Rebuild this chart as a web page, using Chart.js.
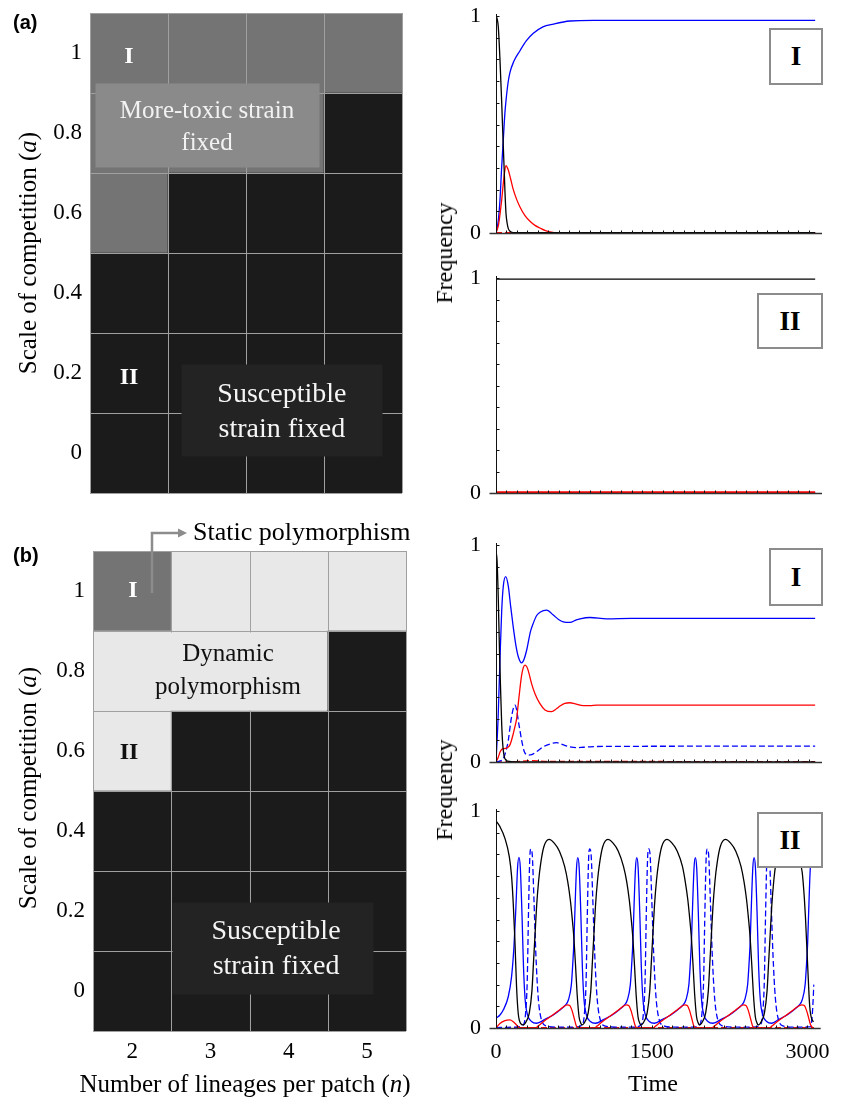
<!DOCTYPE html>
<html>
<head>
<meta charset="utf-8">
<script src="https://cdn.jsdelivr.net/npm/chart.js@4.4.1/dist/chart.umd.min.js"></script>
<style>
  body { margin: 0; background: #fff; }
  #fig { position: relative; width: 841px; height: 1097px; overflow: hidden;
         font-family: "Liberation Serif", "Times New Roman", serif; color: #000; }
  canvas { position: absolute; }
  .lbl { position: absolute; white-space: nowrap; line-height: 1; }
  .ctr { transform: translate(-50%, -50%); }
  .rot { transform: translate(-50%, -50%) rotate(-90deg); }
  .panel { font-family: "Liberation Sans", Arial, sans-serif; font-weight: bold; font-size: 20px; }
  .tag { position: absolute; box-sizing: border-box; border: 2px solid #8c8c8c; background: #fff;
         display: flex; align-items: center; justify-content: center;
         font-weight: bold; font-size: 27px; }
</style>
</head>
<body>
<div id="fig">
  <canvas id="mapA" width="430" height="544" style="left:0;top:-19px"></canvas>
  <canvas id="mapB" width="430" height="586" style="left:0;top:511px"></canvas>
  <canvas id="freqAI" width="411" height="281" style="left:430px;top:-16px"></canvas>
  <canvas id="freqAII" width="411" height="279" style="left:430px;top:246px"></canvas>
  <canvas id="freqBI" width="411" height="281" style="left:430px;top:513px"></canvas>
  <canvas id="freqBII" width="411" height="318" style="left:430px;top:779px"></canvas>

  <div class="lbl panel" style="left:13px;top:12px">(a)</div>
  <div class="lbl panel" style="left:13px;top:545px">(b)</div>
  <div class="lbl rot" style="left:27px;top:253px;font-size:25px">Scale of competition (<i>a</i>)</div>
  <div class="lbl rot" style="left:27px;top:788px;font-size:25px">Scale of competition (<i>a</i>)</div>
  <div class="lbl ctr" style="left:245px;top:1083px;font-size:25px">Number of lineages per patch (<i>n</i>)</div>
  <div class="lbl rot" style="left:444px;top:253px;font-size:24px">Frequency</div>
  <div class="lbl rot" style="left:444px;top:790px;font-size:24px">Frequency</div>
  <div class="lbl ctr" style="left:653px;top:1083px;font-size:24px">Time</div>

  <div class="tag" style="left:769px;top:28px;width:54px;height:57px">I</div>
  <div class="tag" style="left:757px;top:293px;width:66px;height:56px">II</div>
  <div class="tag" style="left:769px;top:548px;width:54px;height:58px">I</div>
  <div class="tag" style="left:757px;top:812px;width:66px;height:56px">II</div>
</div>

<script>
// ---- heat maps: outcome per (n, a) cell ----
const lineages = ['2', '3', '4', '5'];
const competition = [0, 0.2, 0.4, 0.6, 0.8, 1];
// rows follow `competition`, columns follow `lineages`
const fateA = [
  ['sus', 'sus', 'sus', 'sus'],
  ['sus', 'sus', 'sus', 'sus'],
  ['sus', 'sus', 'sus', 'sus'],
  ['tox', 'sus', 'sus', 'sus'],
  ['tox', 'tox', 'tox', 'sus'],
  ['tox', 'tox', 'tox', 'tox']
];
const fateB = [
  ['sus', 'sus', 'sus', 'sus'],
  ['sus', 'sus', 'sus', 'sus'],
  ['sus', 'sus', 'sus', 'sus'],
  ['dyn', 'sus', 'sus', 'sus'],
  ['dyn', 'dyn', 'dyn', 'sus'],
  ['sta', 'dyn', 'dyn', 'dyn']
];

// ---- time series, [time, frequency] ----
const timeTicks = [0, 1500, 3000];
const freqTicks = [0, 1];
const timeMax = 3070;

// (a) I
const aI_black = [[0,1],[12,0.985],[22,0.95],[38,0.8],[54,0.61],[66,0.45],[77,0.31],[86,0.19],[96,0.09],[107,0.045],[118,0.02],[140,0.006],[166,0.002],[3062,0.002]];
const aI_blue = [[0,0],[20,0.05],[38,0.15],[54,0.3],[70,0.43],[85,0.55],[96,0.61],[115,0.69],[134,0.74],[170,0.79],[230,0.84],[290,0.885],[358,0.92],[450,0.95],[550,0.963],[710,0.977],[934,0.98],[3062,0.98]];
const aI_red = [[0,0],[25,0.04],[54,0.15],[77,0.26],[96,0.31],[118,0.29],[140,0.25],[166,0.2],[198,0.155],[230,0.12],[278,0.08],[326,0.054],[374,0.035],[422,0.023],[470,0.012],[518,0.005],[600,0.001],[3062,0]];
const aI_redDash = [[0,0.002],[3062,0.002]];

// (a) II
const aII_black = [[0,0.995],[3062,0.995]];
const aII_blue = [[0,0.002],[3062,0.002]];
const aII_red = [[0,0.003],[3062,0.003]];

// (b) I
const bI_black = [[0,0.97],[10,0.93],[22,0.75],[34,0.5],[45,0.32],[55,0.17],[64,0.085],[75,0.035],[86,0.015],[110,0.004],[200,0.001],[3062,0.001]];
const bI_blue = [[0,0],[20,0.2],[38,0.47],[55,0.7],[70,0.81],[93,0.854],[118,0.81],[140,0.72],[166,0.62],[190,0.54],[214,0.485],[246,0.457],[270,0.475],[294,0.515],[330,0.6],[358,0.64],[390,0.675],[422,0.69],[486,0.7],[550,0.677],[600,0.657],[646,0.646],[710,0.643],[770,0.655],[806,0.66],[902,0.666],[1062,0.66],[1300,0.662],[3062,0.662]];
const bI_blueDash = [[0,0],[40,0.005],[70,0.015],[100,0.06],[118,0.1],[140,0.18],[150,0.21],[165,0.245],[182,0.262],[198,0.24],[214,0.19],[230,0.145],[246,0.1],[270,0.05],[310,0.032],[342,0.034],[390,0.048],[454,0.07],[518,0.083],[582,0.089],[640,0.08],[710,0.07],[774,0.066],[838,0.068],[902,0.07],[1030,0.072],[3062,0.073]];
const bI_red = [[0,0],[20,0.02],[38,0.045],[54,0.058],[80,0.062],[109,0.066],[135,0.08],[160,0.12],[180,0.16],[198,0.2],[214,0.27],[230,0.34],[246,0.4],[262,0.435],[278,0.446],[294,0.44],[310,0.42],[342,0.36],[374,0.315],[420,0.27],[470,0.24],[534,0.232],[580,0.245],[614,0.258],[660,0.27],[710,0.273],[760,0.268],[838,0.26],[902,0.26],[966,0.262],[3062,0.262]];
const bI_redDash = [[0,0],[200,0.002],[330,0.006],[500,0.003],[3062,0.002]];

// (b) II
const bII_black = [[0,0.955],[38,0.928],[86,0.874],[128,0.79],[150,0.7],[166,0.575],[182,0.405],[198,0.19],[214,0.068],[237,0.021],[262,0.014],
  [291,0.03],[321,0.07],[346,0.17],[361,0.3],[376,0.43],[391,0.56],[411,0.68],[431,0.76],[461,0.835],[511,0.869],[561,0.852],[611,0.815],[661,0.745],[691,0.675],[716,0.59],[731,0.52],[748,0.43],[766,0.29],[781,0.16],[800,0.052],[818,0.021],
  [829,0.014],[858,0.03],[888,0.07],[913,0.17],[928,0.3],[943,0.43],[958,0.56],[978,0.68],[998,0.76],[1028,0.835],[1078,0.869],[1128,0.852],[1178,0.815],[1228,0.745],[1259,0.675],[1284,0.59],[1299,0.52],[1316,0.43],[1334,0.29],[1349,0.16],[1368,0.052],[1386,0.021],
  [1397,0.014],[1426,0.03],[1456,0.07],[1481,0.17],[1496,0.3],[1511,0.43],[1526,0.56],[1546,0.68],[1566,0.76],[1596,0.835],[1646,0.869],[1696,0.852],[1746,0.815],[1796,0.745],[1823,0.675],[1848,0.59],[1863,0.52],[1880,0.43],[1898,0.29],[1913,0.16],[1932,0.052],[1950,0.021],
  [1961,0.014],[1990,0.03],[2020,0.07],[2045,0.17],[2060,0.3],[2075,0.43],[2090,0.56],[2110,0.68],[2130,0.76],[2160,0.835],[2210,0.869],[2260,0.852],[2310,0.815],[2360,0.745],[2389,0.675],[2414,0.59],[2429,0.52],[2446,0.43],[2464,0.29],[2479,0.16],[2498,0.052],[2516,0.021],
  [2527,0.014],[2556,0.03],[2586,0.07],[2611,0.17],[2626,0.3],[2641,0.43],[2656,0.56],[2676,0.68],[2696,0.76],[2726,0.835],[2776,0.869],[2826,0.852],[2876,0.815],[2920,0.77],[2949,0.72],[2970,0.6],[2981,0.51],[3003,0.28],[3022,0.1],[3045,0.037],[3061,0.03]];
const bII_blue = [[0,0.045],[38,0.06],[70,0.083],[118,0.144],[150,0.237],[173,0.375],[192,0.56],[208,0.74],[221,0.786],[234,0.74],[250,0.53],[265,0.28],[281,0.13],[304,0.06],[342,0.03],[391,0.022],
  [472,0.04],[552,0.06],[622,0.085],[668,0.105],[698,0.13],[726,0.2],[740,0.3],[750,0.39],[763,0.58],[776,0.74],[788,0.785],[801,0.74],[817,0.53],[832,0.28],[848,0.13],[871,0.06],[909,0.03],[958,0.022],
  [1040,0.04],[1120,0.06],[1190,0.085],[1236,0.105],[1266,0.13],[1294,0.2],[1308,0.3],[1318,0.39],[1331,0.58],[1344,0.74],[1356,0.785],[1369,0.74],[1385,0.53],[1400,0.28],[1416,0.13],[1439,0.06],[1477,0.03],[1526,0.022],
  [1604,0.04],[1684,0.06],[1754,0.085],[1800,0.105],[1830,0.13],[1858,0.2],[1872,0.3],[1882,0.39],[1895,0.58],[1908,0.74],[1920,0.785],[1933,0.74],[1949,0.53],[1964,0.28],[1980,0.13],[2003,0.06],[2041,0.03],[2090,0.022],
  [2170,0.04],[2250,0.06],[2320,0.085],[2366,0.105],[2396,0.13],[2424,0.2],[2438,0.3],[2448,0.39],[2461,0.58],[2474,0.74],[2486,0.785],[2499,0.74],[2515,0.53],[2530,0.28],[2546,0.13],[2569,0.06],[2607,0.03],[2656,0.022],
  [2724,0.04],[2804,0.06],[2874,0.085],[2920,0.105],[2950,0.13],[2978,0.2],[2992,0.3],[3002,0.39],[3015,0.58],[3028,0.74],[3040,0.78]];
const bII_blueDash = [[0,0.002],[180,0.004],[262,0.014],[285,0.068],[301,0.22],[313,0.53],[326,0.79],[336,0.825],[349,0.8],[365,0.6],[384,0.34],[406,0.144],[438,0.037],[486,0.009],[586,0.004],
  [753,0.004],[829,0.014],[852,0.068],[868,0.22],[880,0.53],[893,0.79],[903,0.825],[916,0.8],[932,0.6],[951,0.34],[973,0.144],[1005,0.037],[1053,0.009],[1153,0.004],
  [1321,0.004],[1397,0.014],[1420,0.068],[1436,0.22],[1448,0.53],[1461,0.79],[1471,0.825],[1484,0.8],[1500,0.6],[1519,0.34],[1541,0.144],[1573,0.037],[1621,0.009],[1721,0.004],
  [1885,0.004],[1961,0.014],[1984,0.068],[2000,0.22],[2012,0.53],[2025,0.79],[2035,0.825],[2048,0.8],[2064,0.6],[2083,0.34],[2105,0.144],[2137,0.037],[2185,0.009],[2285,0.004],
  [2470,0.004],[2546,0.014],[2569,0.068],[2585,0.22],[2597,0.53],[2610,0.79],[2620,0.825],[2633,0.8],[2649,0.6],[2668,0.34],[2690,0.144],[2722,0.037],[2770,0.009],[2870,0.004],
  [3030,0.006],[3048,0.07],[3062,0.2]];
const bII_red = [[0,0],[38,0.021],[86,0.034],[134,0.037],[166,0.029],[198,0.014],[224,0.002],
  [388,0.002],[408,0.01],[468,0.033],[533,0.055],[598,0.078],[648,0.097],[688,0.107],[710,0.104],[733,0.08],[753,0.045],[773,0.01],[788,0.002],
  [956,0.002],[976,0.01],[1036,0.033],[1101,0.055],[1166,0.078],[1216,0.097],[1256,0.107],[1278,0.104],[1301,0.08],[1321,0.045],[1341,0.01],[1356,0.002],
  [1520,0.002],[1540,0.01],[1600,0.033],[1665,0.055],[1730,0.078],[1780,0.097],[1820,0.107],[1842,0.104],[1865,0.08],[1885,0.045],[1905,0.01],[1920,0.002],
  [2086,0.002],[2106,0.01],[2166,0.033],[2231,0.055],[2296,0.078],[2346,0.097],[2386,0.107],[2408,0.104],[2431,0.08],[2451,0.045],[2471,0.01],[2486,0.002],
  [2640,0.002],[2660,0.01],[2720,0.033],[2785,0.055],[2850,0.078],[2900,0.097],[2945,0.107],[2970,0.104],[2992,0.08],[3010,0.05],[3030,0.015],[3050,0.002],[3062,0]];
const bII_redDash = [[0,0.002],[3062,0.002]];


const serif = '"Liberation Serif", "Times New Roman", serif';
Chart.defaults.font.family = serif;
Chart.defaults.color = '#000';

const fateColors = { sus: '#1b1b1b', tox: '#747474', sta: '#747474', dyn: '#e8e8e8' };
const BLUE = '#0000ff', RED = '#ff0000', BLACK = '#000000';
const DASH = [6, 3];

// grid lines, label boxes and marks drawn on top of the cells
const mapOverlay = {
  id: 'mapOverlay',
  afterDatasetsDraw(chart, args, o) {
    const { ctx, scales: { x, y } } = chart;
    const colW = x.getPixelForValue(1) - x.getPixelForValue(0);
    const px = i => x.getPixelForValue(0) + i * colW;
    const py = v => y.getPixelForValue(v);
    const half = (competition[1] - competition[0]) / 2;
    ctx.save();

    ctx.strokeStyle = '#a0a0a0';
    ctx.lineWidth = 1;
    ctx.beginPath();
    for (let i = 0; i <= lineages.length; i++) {
      const xx = Math.round(px(i - 0.5)) + 0.5;
      ctx.moveTo(xx, py(y.max)); ctx.lineTo(xx, py(y.min));
    }
    competition.concat([competition[competition.length - 1] + 2 * half]).forEach(a => {
      const yy = Math.round(py(a - half)) + 0.5;
      ctx.moveTo(px(-0.5), yy); ctx.lineTo(px(lineages.length - 0.5), yy);
    });
    ctx.stroke();

    ctx.textAlign = 'center';
    ctx.textBaseline = 'middle';
    o.boxes.forEach(b => {
      const ins = b.inset || 0;
      const x0 = px(b.x0), x1 = px(b.x1), y0 = py(b.y1), y1 = py(b.y0);
      ctx.fillStyle = b.fill;
      ctx.fillRect(x0 + ins + 0.5, y0 + ins + 0.5, x1 - x0 - 2 * ins, y1 - y0 - 2 * ins);
      ctx.fillStyle = b.color;
      ctx.font = b.size + 'px ' + serif;
      b.lines.forEach(([t, v]) => ctx.fillText(t, px(b.tx), py(v)));
    });

    ctx.font = 'bold 24px ' + serif;
    o.marks.forEach(([t, i, v, c]) => { ctx.fillStyle = c; ctx.fillText(t, px(i), py(v)); });

    if (o.arrow) {
      const a = o.arrow;
      const ax = px(a.x), ay = chart.chartArea.top - a.rise, tip = px(a.tipX);
      ctx.strokeStyle = '#8c8c8c';
      ctx.fillStyle = '#8c8c8c';
      ctx.lineWidth = 2.5;
      ctx.beginPath();
      ctx.moveTo(ax, py(a.yFrom)); ctx.lineTo(ax, ay); ctx.lineTo(tip - 7, ay);
      ctx.stroke();
      ctx.beginPath();
      ctx.moveTo(tip, ay); ctx.lineTo(tip - 9, ay - 4.5); ctx.lineTo(tip - 9, ay + 4.5);
      ctx.closePath(); ctx.fill();
      ctx.fillStyle = '#000';
      ctx.font = '26px ' + serif;
      ctx.textAlign = 'left';
      ctx.fillText(a.text, px(a.textX), ay);
    }
    ctx.restore();
  }
};

function makeMap(id, fate, overlay, axisW, pad, showX) {
  return new Chart(document.getElementById(id), {
    type: 'bar',
    data: {
      labels: lineages,
      datasets: competition.map((a, r) => ({
        label: 'a = ' + a,
        data: lineages.map(() => [a - 0.1, a + 0.1]),
        backgroundColor: fate[r].map(f => fateColors[f]),
        grouped: false,
        barPercentage: 1,
        categoryPercentage: 1,
        borderWidth: 0
      }))
    },
    options: {
      responsive: false,
      animation: false,
      devicePixelRatio: 1,
      layout: { padding: pad },
      plugins: { legend: { display: false }, tooltip: { enabled: false }, mapOverlay: overlay },
      scales: {
        x: {
          display: showX,
          grid: { display: false, drawTicks: false },
          border: { display: false },
          ticks: { font: { size: 23 }, color: '#000', padding: 7, maxRotation: 0 },
          afterFit: s => { if (showX) s.height = 40; }
        },
        y: {
          min: -0.1, max: 1.1,
          grid: { display: false, drawTicks: false },
          border: { display: false },
          afterBuildTicks: s => { s.ticks = competition.map(v => ({ value: v })); },
          ticks: { font: { size: 23 }, color: '#000', padding: 8, autoSkip: false, callback: v => String(v) },
          afterFit: s => { s.width = axisW; }
        }
      }
    },
    plugins: [mapOverlay]
  });
}

makeMap('mapA', fateA, {
  boxes: [
    { x0: -0.436, x1: 2.436, y0: 0.715, y1: 0.925, fill: '#8a8a8a', color: '#f2f2f2', size: 25, tx: 1.0,
      lines: [['More-toxic strain', 0.853], ['fixed', 0.773]] },
    { x0: 0.667, x1: 3.244, y0: -0.0075, y1: 0.2225, fill: '#232323', color: '#f5f5f5', size: 28, tx: 1.96,
      lines: [['Susceptible', 0.145], ['strain fixed', 0.0575]] }
  ],
  marks: [['I', 0, 0.99, '#fff'], ['II', 0, 0.1875, '#fff']]
}, 90, { left: 0, right: 28, top: 32, bottom: 32 }, false);

makeMap('mapB', fateB, {
  boxes: [
    { x0: -0.5, x1: 2.5, y0: 0.7, y1: 0.9, inset: 1, fill: '#e8e8e8', color: '#111', size: 25, tx: 1.225,
      lines: [['Dynamic', 0.8425], ['polymorphism', 0.76]] },
    { x0: 0.51, x1: 3.078, y0: -0.0075, y1: 0.2225, fill: '#232323', color: '#f5f5f5', size: 28, tx: 1.839,
      lines: [['Susceptible', 0.1475], ['strain fixed', 0.06]] }
  ],
  marks: [['I', 0.01, 1.0, '#fff'], ['II', -0.04, 0.595, '#111']],
  arrow: { x: 0.254, yFrom: 0.995, rise: 18, tipX: 0.701, textX: 0.778, text: 'Static polymorphism' }
}, 93, { left: 0, right: 24, top: 40, bottom: 26 }, true);


// axes with inward minor ticks for the frequency panels
const freqMinor = 0.1, timeMinor = 100;
const frameAxes = {
  id: 'frameAxes',
  afterDatasetsDraw(chart) {
    const { ctx, scales: { x, y } } = chart;
    const left = Math.round(x.getPixelForValue(0)) + 0.5;
    const base = Math.round(y.getPixelForValue(0)) + 0.5;
    const top = y.getPixelForValue(1);
    const right = x.getPixelForValue(timeMax);
    ctx.save();
    ctx.strokeStyle = '#111';
    ctx.lineWidth = 1;
    ctx.beginPath();
    ctx.moveTo(left, top - 2); ctx.lineTo(left, base);
    for (let v = freqMinor; v < 1.001; v += freqMinor) {
      const yy = Math.round(y.getPixelForValue(v)) + 0.5;
      ctx.moveTo(left, yy); ctx.lineTo(left + 3, yy);
    }
    for (let t = timeMinor; t < timeMax; t += timeMinor) {
      const xx = Math.round(x.getPixelForValue(t)) + 0.5;
      ctx.moveTo(xx, base); ctx.lineTo(xx, base - 3);
    }
    ctx.stroke();
    ctx.strokeStyle = '#333';
    ctx.lineWidth = 1.5;
    ctx.beginPath();
    ctx.moveTo(left - 7, base); ctx.lineTo(right + 6, base);
    ctx.stroke();
    ctx.restore();
  }
};

function makeFreq(id, series, pad, showTime) {
  return new Chart(document.getElementById(id), {
    type: 'line',
    data: {
      datasets: series.map(s => ({
        data: s.data.map(([t, v]) => ({ x: t, y: v })),
        borderColor: s.color,
        borderDash: s.dash || [],
        borderWidth: s.width || 1.3,
        pointRadius: 0,
        cubicInterpolationMode: 'monotone',
        fill: false
      }))
    },
    options: {
      responsive: false,
      animation: false,
      devicePixelRatio: 1,
      layout: { padding: pad },
      plugins: { legend: { display: false }, tooltip: { enabled: false } },
      scales: {
        x: {
          type: 'linear', min: 0, max: timeMax,
          display: showTime,
          grid: { display: false, drawTicks: false },
          border: { display: false },
          afterBuildTicks: s => { s.ticks = timeTicks.map(v => ({ value: v })); },
          ticks: { font: { size: 22 }, color: '#000', padding: 11, maxRotation: 0, autoSkip: false, callback: v => String(v) },
          afterFit: s => { if (showTime) s.height = 40; }
        },
        y: {
          min: 0, max: 1,
          grid: { display: false, drawTicks: false },
          border: { display: false },
          afterBuildTicks: s => { s.ticks = freqTicks.map(v => ({ value: v })); },
          ticks: { font: { size: 22 }, color: '#000', padding: 15, autoSkip: false, callback: v => String(v) },
          afterFit: s => { s.width = 66; }
        }
      }
    },
    plugins: [frameAxes]
  });
}

makeFreq('freqAI', [
  { data: aI_black, color: BLACK },
  { data: aI_red, color: RED },
  { data: aI_blue, color: BLUE },
  { data: aI_redDash, color: RED, dash: DASH }
], { left: 0, right: 25, top: 32, bottom: 32 }, false);

makeFreq('freqAII', [
  { data: aII_red, color: RED, width: 2 },
  { data: aII_black, color: BLACK },
  { data: aII_blue, color: BLUE }
], { left: 0, right: 25, top: 32, bottom: 32 }, false);

makeFreq('freqBI', [
  { data: bI_black, color: BLACK },
  { data: bI_blue, color: BLUE },
  { data: bI_red, color: RED },
  { data: bI_blueDash, color: BLUE, dash: DASH },
  { data: bI_redDash, color: RED, dash: DASH }
], { left: 0, right: 25, top: 32, bottom: 32 }, false);

makeFreq('freqBII', [
  { data: bII_black, color: BLACK },
  { data: bII_red, color: RED },
  { data: bII_blue, color: BLUE },
  { data: bII_blueDash, color: BLUE, dash: DASH },
  { data: bII_redDash, color: RED, dash: DASH }
], { left: 0, right: 25, top: 32, bottom: 29 }, true);
</script>
</body>
</html>
